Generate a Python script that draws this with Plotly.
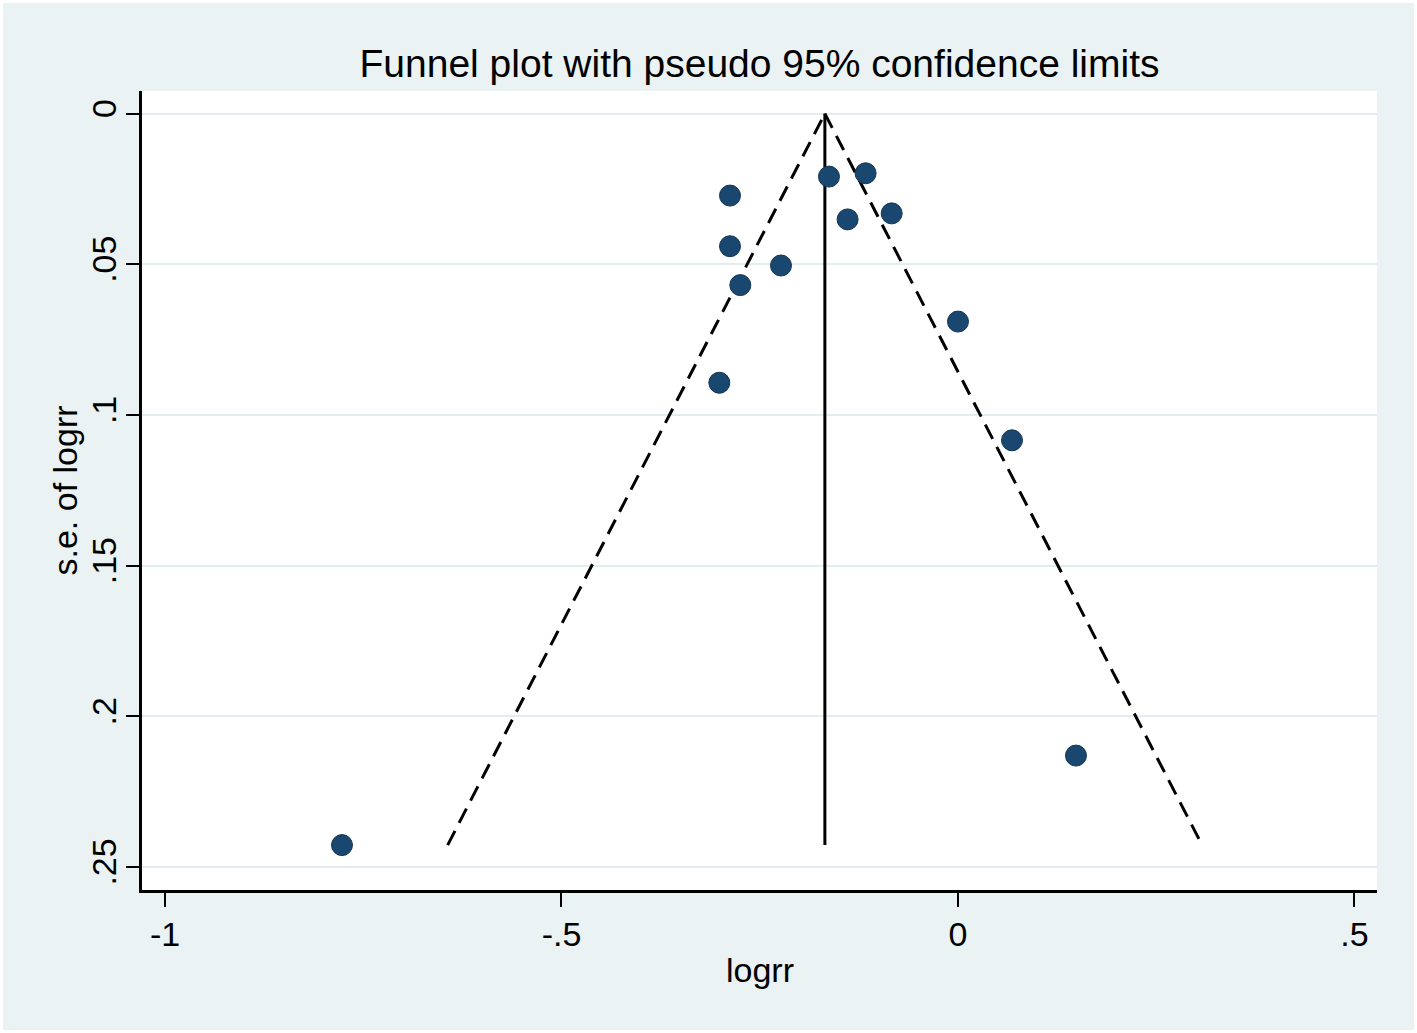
import plotly.graph_objects as go
import numpy as np

# study estimates
logrr = [-0.2875, -0.1627, -0.1165, -0.1392, -0.0836, -0.2875, -0.2232,
         -0.2745, 0.0000, -0.3010, 0.0681, 0.1488, -0.7768]
se = [0.0272, 0.0209, 0.0198, 0.0351, 0.0331, 0.0440, 0.0504,
      0.0569, 0.0690, 0.0893, 0.1084, 0.2130, 0.2427]

x_ticks = [-1, -0.5, 0, 0.5]
x_ticklabels = ["-1", "-.5", "0", ".5"]
y_ticks = [0, 0.05, 0.1, 0.15, 0.2, 0.25]
y_ticklabels = ["0", ".05", ".1", ".15", ".2", ".25"]

# fixed-effect pooled estimate and pseudo 95% limits
w = 1 / np.array(se) ** 2
pooled = float(np.sum(w * np.array(logrr)) / np.sum(w))
se_max = max(se)

font = "Arial, Liberation Sans, sans-serif"
navy = "#1a476f"

fig = go.Figure()

fig.add_trace(go.Scatter(
    x=[pooled - 1.96 * se_max, pooled],
    y=[se_max, 0],
    mode="lines",
    line=dict(color="black", width=3, dash="16px,9px"),
    showlegend=False,
))
fig.add_trace(go.Scatter(
    x=[pooled, pooled + 1.96 * se_max],
    y=[0, se_max],
    mode="lines",
    line=dict(color="black", width=3, dash="16px,9px"),
    showlegend=False,
))
fig.add_trace(go.Scatter(
    x=[pooled, pooled],
    y=[0, se_max],
    mode="lines",
    line=dict(color="black", width=3),
    showlegend=False,
))
fig.add_trace(go.Scatter(
    x=logrr,
    y=se,
    mode="markers",
    marker=dict(color=navy, size=21, line=dict(color="#123552", width=1)),
    showlegend=False,
))

fig.update_layout(
    width=1411,
    height=1027,
    margin=dict(l=139, r=37, t=88, b=140),
    paper_bgcolor="#eaf2f3",
    plot_bgcolor="white",
    font=dict(family=font, color="black", size=34),
    title=dict(
        text="Funnel plot with pseudo 95% confidence limits",
        font=dict(family=font, size=39, color="black"),
        x=0.5, xref="paper", xanchor="center",
        y=1 - 60 / 1027, yref="container", yanchor="middle",
    ),
    annotations=[
        dict(text="logrr", x=0.5, y=0, xref="paper", yref="paper",
             xanchor="center", yanchor="middle", yshift=-80,
             showarrow=False, font=dict(size=34)),
        dict(text="s.e. of logrr", x=0, y=0.5, xref="paper", yref="paper",
             xanchor="center", yanchor="middle", xshift=-78, textangle=-90,
             showarrow=False, font=dict(size=34)),
    ],
)

fig.update_xaxes(
    range=[-1.029, 0.5284],
    tickvals=x_ticks,
    ticktext=x_ticklabels,
    ticks="outside",
    ticklen=14,
    tickwidth=2,
    tickcolor="black",
    showline=True,
    linecolor="black",
    linewidth=2.5,
    showgrid=False,
    zeroline=False,
    tickfont=dict(size=34),
    ticklabelstandoff=-2,
)
fig.update_yaxes(
    range=[0.2576, -0.0075],
    tickvals=y_ticks,
    ticktext=y_ticklabels,
    tickangle=-90,
    ticks="outside",
    ticklen=13,
    tickwidth=2,
    tickcolor="black",
    showline=True,
    linecolor="black",
    linewidth=2.5,
    showgrid=True,
    gridcolor="#e3edf0",
    gridwidth=2,
    zeroline=False,
    tickfont=dict(size=34),
    ticklabelstandoff=-3,
)

fig.write_html("out.html", post_script="document.body.style.margin = '3px';")
